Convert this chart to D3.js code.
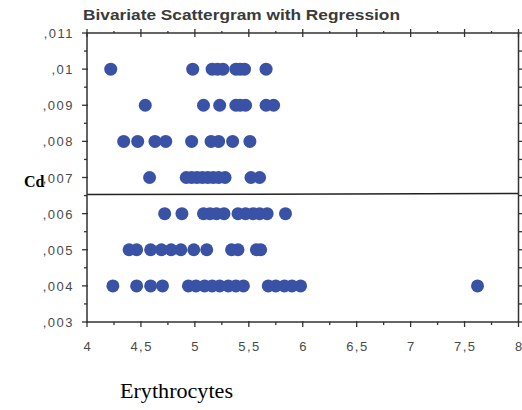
<!DOCTYPE html>
<html lang="en">
<head>
<meta charset="UTF-8">
<title>Bivariate Scattergram with Regression</title>
<script src="https://d3js.org/d3.v7.min.js"></script>
<style>
    body { margin: 0; background: #fff; }
    svg { display: block; }
    .tick-label { font-family: Arial, "Liberation Sans", sans-serif; font-size: 13px; fill: #4a4a4a; letter-spacing: 1.5px; }
    .frame { stroke: #333; stroke-width: 1.5; fill: none; }
</style>
</head>
<body>
<svg id="chart" width="522" height="410"></svg>
<script>
    // Erythrocytes (x) and Cd (y) readings, one pair per point
    var erythrocytes = [
        4.22, 4.98, 5.16, 5.21, 5.26, 5.38, 5.42, 5.46, 5.66,
        4.54, 5.08, 5.23, 5.38, 5.42, 5.47, 5.66, 5.73,
        4.34, 4.47, 4.63, 4.73, 4.97, 5.15, 5.22, 5.35, 5.51,
        4.58, 4.92, 4.97, 5.02, 5.07, 5.12, 5.17, 5.22, 5.28, 5.52, 5.60,
        4.72, 4.88, 5.08, 5.14, 5.20, 5.27, 5.40, 5.47, 5.54, 5.60, 5.67, 5.84,
        4.39, 4.46, 4.59, 4.69, 4.78, 4.87, 4.99, 5.11, 5.34, 5.40, 5.57, 5.61,
        4.24, 4.46, 4.59, 4.70, 4.94, 5.01, 5.09, 5.16, 5.23, 5.31, 5.38, 5.45,
        5.68, 5.75, 5.83, 5.90, 5.98, 7.62
    ];
    var cadmium = [
        .010, .010, .010, .010, .010, .010, .010, .010, .010,
        .009, .009, .009, .009, .009, .009, .009, .009,
        .008, .008, .008, .008, .008, .008, .008, .008, .008,
        .007, .007, .007, .007, .007, .007, .007, .007, .007, .007, .007,
        .006, .006, .006, .006, .006, .006, .006, .006, .006, .006, .006, .006,
        .005, .005, .005, .005, .005, .005, .005, .005, .005, .005, .005, .005,
        .004, .004, .004, .004, .004, .004, .004, .004, .004, .004, .004, .004,
        .004, .004, .004, .004, .004, .004
    ];

    var xTicks = [4, 4.5, 5, 5.5, 6, 6.5, 7, 7.5, 8];
    var yTicks = [.003, .004, .005, .006, .007, .008, .009, .010, .011];
    var xTickLabels = ["4", "4,5", "5", "5,5", "6", "6,5", "7", "7,5", "8"];
    var yTickLabels = [",003", ",004", ",005", ",006", ",007", ",008", ",009", ",01", ",011"];

    // regression line Cd = a + b * Erythrocytes
    var regIntercept = 0.0065;
    var regSlope = 0.000007;

    var svg = d3.select("#chart");
    var plotLeft = 87, plotRight = 518.5, plotTop = 33, plotBottom = 322;

    var x = d3.scaleLinear().domain([4, 8]).range([plotLeft, plotRight]);
    var y = d3.scaleLinear().domain([.003, .011]).range([plotBottom, plotTop]);

    // title
    svg.append("text")
        .attr("x", 83).attr("y", 20)
        .attr("textLength", 317)
        .attr("lengthAdjust", "spacingAndGlyphs")
        .style("font-family", "Arial, 'Liberation Sans', sans-serif")
        .style("font-weight", "bold")
        .style("font-size", "14px")
        .style("fill", "#3a3a3a")
        .text("Bivariate Scattergram with Regression");

    // points
    svg.append("g").selectAll("circle")
        .data(erythrocytes.map(function (v, i) { return [v, cadmium[i]]; }))
        .enter().append("circle")
        .attr("cx", function (d) { return x(d[0]); })
        .attr("cy", function (d) { return y(d[1]); })
        .attr("r", 6.5)
        .style("fill", "#3a52a6");

    // regression line
    svg.append("line")
        .attr("x1", x(4)).attr("x2", x(8))
        .attr("y1", y(regIntercept + regSlope * 4))
        .attr("y2", y(regIntercept + regSlope * 8))
        .style("stroke", "#222").style("stroke-width", 1.5);

    // frame
    svg.append("rect").attr("class", "frame")
        .attr("x", plotLeft).attr("y", plotTop)
        .attr("width", plotRight - plotLeft).attr("height", plotBottom - plotTop);

    var minorX = d3.range(4.25, 8, 0.5);
    var minorY = d3.range(.0035, .011, .001);

    var ticks = svg.append("g").style("stroke", "#333").style("stroke-width", 1.3);

    // bottom axis ticks
    ticks.selectAll(".xb").data(xTicks).enter().append("line")
        .attr("x1", function (d) { return x(d); }).attr("x2", function (d) { return x(d); })
        .attr("y1", plotBottom - 1).attr("y2", plotBottom + 5);
    ticks.selectAll(".xbm").data(minorX).enter().append("line")
        .attr("x1", function (d) { return x(d); }).attr("x2", function (d) { return x(d); })
        .attr("y1", plotBottom).attr("y2", plotBottom + 3);
    // top axis ticks
    ticks.selectAll(".xt").data(xTicks).enter().append("line")
        .attr("x1", function (d) { return x(d); }).attr("x2", function (d) { return x(d); })
        .attr("y1", plotTop - 4).attr("y2", plotTop + 4);
    ticks.selectAll(".xtm").data(minorX).enter().append("line")
        .attr("x1", function (d) { return x(d); }).attr("x2", function (d) { return x(d); })
        .attr("y1", plotTop - 2).attr("y2", plotTop);
    // left axis ticks
    ticks.selectAll(".yl").data(yTicks).enter().append("line")
        .attr("x1", plotLeft - 5).attr("x2", plotLeft + 1)
        .attr("y1", function (d) { return y(d); }).attr("y2", function (d) { return y(d); });
    ticks.selectAll(".ylm").data(minorY).enter().append("line")
        .attr("x1", plotLeft - 3).attr("x2", plotLeft)
        .attr("y1", function (d) { return y(d); }).attr("y2", function (d) { return y(d); });
    // right axis ticks
    ticks.selectAll(".yr").data(yTicks.concat(minorY)).enter().append("line")
        .attr("x1", plotRight).attr("x2", plotRight + 4)
        .attr("y1", function (d) { return y(d); }).attr("y2", function (d) { return y(d); });

    // tick labels
    svg.selectAll(".xl").data(xTicks).enter().append("text")
        .attr("class", "tick-label")
        .attr("x", function (d) { return x(d) + 0.75; })
        .attr("y", 351)
        .attr("text-anchor", "middle")
        .text(function (d, i) { return xTickLabels[i]; });
    svg.selectAll(".ylab").data(yTicks).enter().append("text")
        .attr("class", "tick-label")
        .attr("x", 74)
        .attr("y", function (d) { return y(d) + 5; })
        .attr("text-anchor", "end")
        .text(function (d, i) { return yTickLabels[i]; });

    // axis titles
    svg.append("text")
        .attr("x", 24).attr("y", 187)
        .style("font-family", "'Liberation Serif', 'Times New Roman', serif")
        .style("font-size", "16px")
        .style("font-weight", "bold")
        .text("Cd");
    svg.append("text")
        .attr("x", 120).attr("y", 398)
        .attr("textLength", 113)
        .attr("lengthAdjust", "spacingAndGlyphs")
        .style("font-family", "'Liberation Serif', 'Times New Roman', serif")
        .style("font-size", "20px")
        .text("Erythrocytes");
</script>
</body>
</html>
